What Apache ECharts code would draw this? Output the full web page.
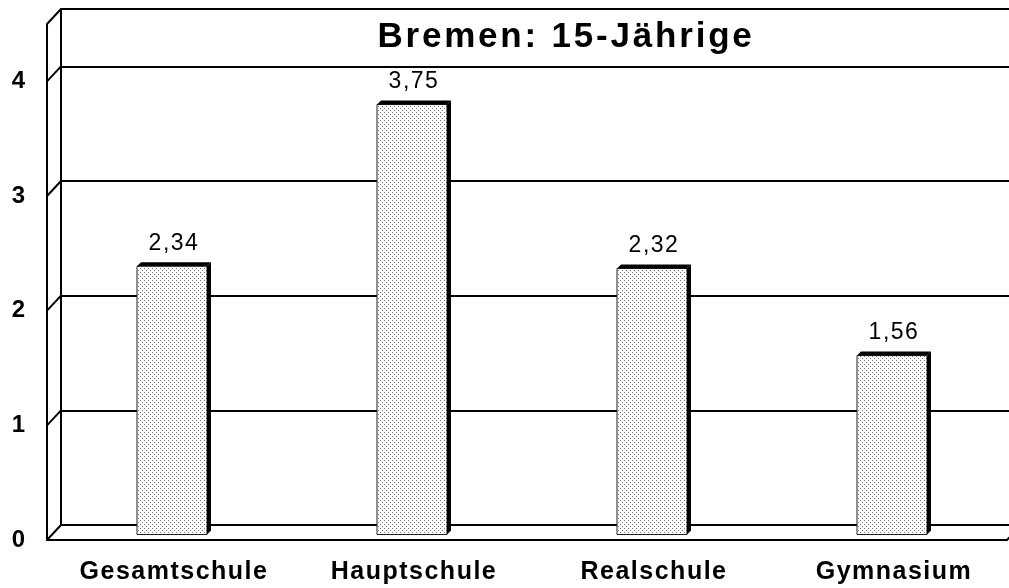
<!DOCTYPE html>
<html>
<head>
<meta charset="utf-8">
<script src="https://cdn.jsdelivr.net/npm/echarts@6/dist/echarts.min.js"></script>
<style>
html, body { margin: 0; padding: 0; background: #fff; }
#chart { width: 1009px; height: 588px; }
</style>
</head>
<body>
<div id="chart"></div>
<script>
const title = 'Bremen: 15-Jährige';
const categories = ['Gesamtschule', 'Hauptschule', 'Realschule', 'Gymnasium'];
const values = [2.34, 3.75, 2.32, 1.56];
const yTicks = [0, 1, 2, 3, 4];
const yMax = 4.5;

// depth of the pseudo 3d box: back wall sits DX right / DY up of the front plane
const DX = 14, DY = 15;
const PLOT_W = 960;
const BAR_W = 74, BAR_D = 4;
const FONT = '"Liberation Sans", Arial, sans-serif';

// the original uses spaced out type, canvas can do that per font size
const TRACKING = {35: 2.8, 25: 1.5, 23: 1.5};
const fillText = CanvasRenderingContext2D.prototype.fillText;
CanvasRenderingContext2D.prototype.fillText = function (text, x, y, w) {
    const m = /(\d+)px/.exec(this.font);
    const t = m ? TRACKING[m[1]] : 0;
    if (t) this.letterSpacing = t + 'px';
    if (w === undefined) fillText.call(this, text, x, y);
    else fillText.call(this, text, x, y, w);
    if (t) this.letterSpacing = '0px';
};

function dotPattern () {
    const c = document.createElement('canvas');
    c.width = 4; c.height = 4;
    const g = c.getContext('2d');
    g.fillStyle = '#fff';
    g.fillRect(0, 0, 4, 4);
    g.fillStyle = '#6e6e6e';
    g.fillRect(0, 0, 1, 1);
    g.fillRect(2, 2, 1, 1);
    return c;
}
const pattern = {image: dotPattern(), repeat: 'repeat'};

const black = {color: '#000', width: 2};
const H = 588;

const chart = echarts.init(document.getElementById('chart'), null, {renderer: 'canvas'});

chart.setOption({
    backgroundColor: '#fff',
    animation: false,
    title: {
        text: title,
        left: 561,
        top: 15,
        textAlign: 'center',
        textStyle: {fontSize: 35, fontWeight: 'bold', fontFamily: FONT, color: '#000'}
    },
    grid: [
        // back wall
        {left: 61, top: 9, width: PLOT_W, bottom: H - 525, outerBoundsMode: 'none'},
        // bar plane
        {left: 61 - DX / 2, top: 9 + DY / 2, width: PLOT_W, bottom: H - 525 - DY / 2, outerBoundsMode: 'none'},
        // front edge
        {left: 61 - DX, top: 9 + DY, width: PLOT_W, bottom: H - 525 - DY, outerBoundsMode: 'none'}
    ],
    xAxis: [
        {gridIndex: 0, type: 'category', data: categories, position: 'top',
            axisLine: {show: true, lineStyle: black}, axisTick: {show: false}, axisLabel: {show: false}},
        {gridIndex: 1, type: 'category', data: categories,
            axisLine: {show: false}, axisTick: {show: false},
            axisLabel: {margin: 27, fontSize: 25, fontWeight: 'bold', fontFamily: FONT, color: '#000'}},
        {gridIndex: 2, type: 'category', data: categories,
            axisLine: {show: true, lineStyle: black}, axisTick: {show: false}, axisLabel: {show: false}}
    ],
    yAxis: [
        {gridIndex: 0, type: 'value', min: 0, max: yMax, interval: 1,
            axisLine: {show: true, lineStyle: black}, axisTick: {show: false}, axisLabel: {show: false},
            splitLine: {show: true, lineStyle: black}},
        {gridIndex: 1, type: 'value', min: 0, max: yMax, interval: 1, show: false},
        {gridIndex: 2, type: 'value', min: 0, max: yMax, interval: 1,
            axisLine: {show: true, lineStyle: black}, axisTick: {show: false}, splitLine: {show: false},
            axisLabel: {margin: 22, fontSize: 24, fontWeight: 'bold', fontFamily: FONT, color: '#000',
                showMaxLabel: false, padding: [6, 0, 0, 0], formatter: v => (v % 1 ? '' : String(v))}}
    ],
    series: [
        {
            // side wall edges: front tick -> back gridline
            type: 'custom',
            xAxisIndex: 0,
            yAxisIndex: 0,
            silent: true,
            data: yTicks.concat([yMax]).map(v => [0, v]),
            renderItem (params, api) {
                const cs = params.coordSys;
                const y = api.coord([0, api.value(1)])[1];
                const lines = [{type: 'line', shape: {x1: cs.x - DX, y1: y + DY, x2: cs.x, y2: y},
                    style: {stroke: '#000', lineWidth: 2}}];
                if (api.value(1) === 0) {
                    const xr = cs.x + cs.width;
                    lines.push({type: 'line', shape: {x1: xr - DX, y1: y + DY, x2: xr, y2: y},
                        style: {stroke: '#000', lineWidth: 2}});
                }
                return {type: 'group', children: lines};
            }
        },
        {
            type: 'custom',
            xAxisIndex: 1,
            yAxisIndex: 1,
            data: values.map((v, i) => [i, v]),
            renderItem (params, api) {
                const top = api.coord([api.value(0), api.value(1)]);
                const base = api.coord([api.value(0), 0]);
                const cx = top[0], ty = top[1], by = base[1];
                const l = cx - BAR_W / 2, r = cx + BAR_W / 2 - BAR_D, h = BAR_D / 2;
                const label = api.value(1).toFixed(2).replace('.', ',');
                return {
                    type: 'group',
                    children: [
                        {type: 'rect', shape: {x: l, y: ty + h, width: r - l, height: by - ty},
                            style: {fill: pattern, stroke: '#222', lineWidth: 1}},
                        {type: 'polygon', shape: {points: [[l, ty + h], [l + BAR_D, ty - h], [r + BAR_D, ty - h], [r, ty + h]]},
                            style: {fill: '#000'}},
                        {type: 'polygon', shape: {points: [[r, ty + h], [r + BAR_D, ty - h], [r + BAR_D, by - h], [r, by + h]]},
                            style: {fill: '#000'}},
                        {type: 'text', x: cx, y: ty - 9,
                            style: {text: label, fill: '#000', fontSize: 23, fontFamily: FONT,
                                align: 'center', verticalAlign: 'bottom'}}
                    ]
                };
            }
        }
    ]
});
</script>
</body>
</html>
